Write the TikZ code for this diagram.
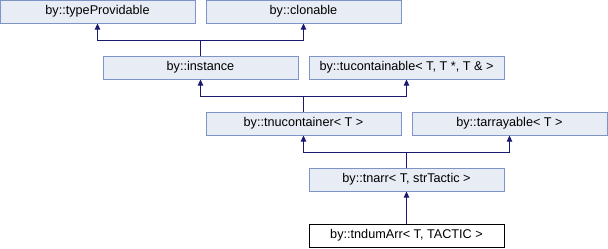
\documentclass[tikz,border=0pt]{standalone}
\usepackage{fontspec}
\setmainfont{Liberation Sans}
\usetikzlibrary{arrows.meta}
\definecolor{boxfill}{HTML}{E8ECF4}
\definecolor{boxline}{HTML}{7C95C6}
\definecolor{edgecol}{HTML}{191970}
\tikzset{
  cls/.style={draw=boxline, fill=boxfill, line width=0.75pt, minimum width=146.25pt, minimum height=17.25pt, inner sep=0pt, font=\fontsize{9.5}{11}\selectfont},
  clsmain/.style={cls, draw=black, fill=white},
  inh/.style={draw=edgecol, line width=0.75pt, -{Triangle[length=4.5pt,width=4pt]}}
}
\begin{document}
\begin{tikzpicture}[x=0.75pt,y=-0.75pt]
\path[fill=white] (0,0) rectangle (608,248);
\useasboundingbox (0,0) rectangle (608,248);
\node[cls] (tp) at (97.5,11.5) {by::typeProvidable};
\node[cls] (cl) at (303.5,11.5) {by::clonable};
\node[cls] (in) at (200.5,67.5) {by::instance};
\node[cls] (tc) at (406.5,67.5) {by::tucontainable< T, T *, T \& >};
\node[cls] (nc) at (303.5,123.5) {by::tnucontainer< T >};
\node[cls] (ta) at (509.5,123.5) {by::tarrayable< T >};
\node[cls] (na) at (406.5,179.5) {by::tnarr< T, strTactic >};
\node[clsmain] (da) at (406.5,235.5) {by::tndumArr< T, TACTIC >};
\draw[inh] (in.north) -- ++(0,-15.5) -| (tp.south);
\draw[inh] (in.north) -- ++(0,-15.5) -| (cl.south);
\draw[inh] (nc.north) -- ++(0,-15.5) -| (in.south);
\draw[inh] (nc.north) -- ++(0,-15.5) -| (tc.south);
\draw[inh] (na.north) -- ++(0,-15.5) -| (nc.south);
\draw[inh] (na.north) -- ++(0,-15.5) -| (ta.south);
\draw[inh] (da.north) -- (na.south);
\end{tikzpicture}
\end{document}
